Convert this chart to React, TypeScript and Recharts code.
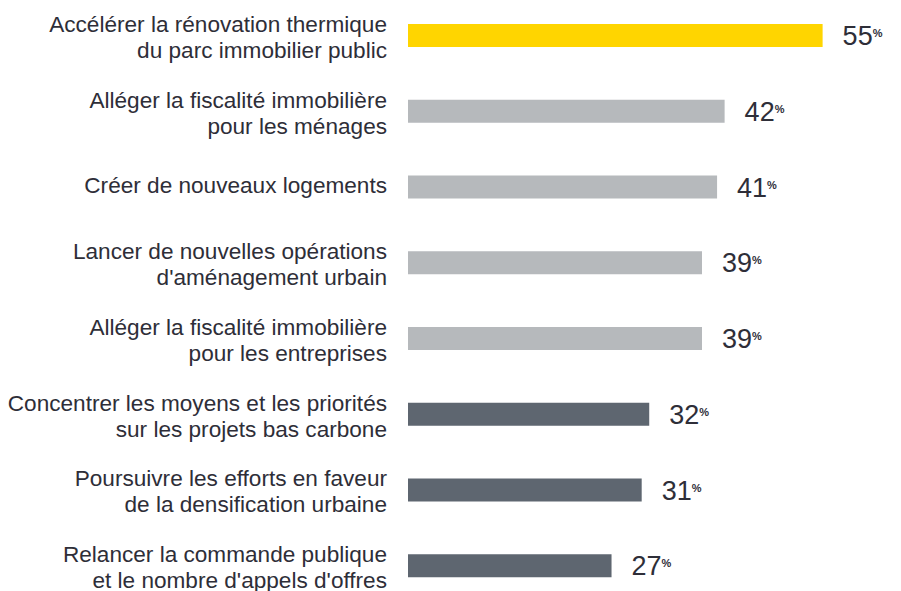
import { BarChart, Bar, XAxis, YAxis, Cell, LabelList } from "recharts";

const categories = [
  "Accélérer la rénovation thermique\ndu parc immobilier public",
  "Alléger la fiscalité immobilière\npour les ménages",
  "Créer de nouveaux logements",
  "Lancer de nouvelles opérations\nd'aménagement urbain",
  "Alléger la fiscalité immobilière\npour les entreprises",
  "Concentrer les moyens et les priorités\nsur les projets bas carbone",
  "Poursuivre les efforts en faveur\nde la densification urbaine",
  "Relancer la commande publique\net le nombre d'appels d'offres",
];
const values = [55, 42, 41, 39, 39, 32, 31, 27];
const tiers = ["top", "mid", "mid", "mid", "mid", "low", "low", "low"];

const tierColor: Record<string, string> = {
  top: "#FFD500",
  mid: "#B6B9BC",
  low: "#5E6670",
};

const TEXT = "#2E2E38";
const FONT = "'Liberation Sans', Arial, sans-serif";

const rows = categories.map((name, i) => ({ name, value: values[i], tier: tiers[i] }));

function CategoryTick({ x, y, payload }: { x?: number; y?: number; payload?: { value: string } }) {
  const lines = String(payload?.value ?? "").split("\n");
  const first = lines.length > 1 ? -4 : 6;
  return (
    <text x={x} y={y} textAnchor="end" fill={TEXT} fontSize={22.6} fontFamily={FONT}>
      {lines.map((l, i) => (
        <tspan key={i} x={x} dy={i === 0 ? first : 26}>{l}</tspan>
      ))}
    </text>
  );
}

function ValueLabel(props: any) {
  const x = Number(props.x) + Number(props.width) + 20;
  const y = Number(props.y) + Number(props.height) / 2 + 9.5;
  return (
    <text x={x} y={y} fill={TEXT} fontFamily={FONT}>
      <tspan fontSize={27}>{props.value}</tspan>
      <tspan fontSize={11} fontWeight={700} dy={-8}>%</tspan>
    </text>
  );
}

export default function App() {
  return (
    <div style={{ position: "absolute", left: 0, top: -2, background: "#fff" }}>
      <BarChart
        width={901}
        height={606}
        data={rows}
        layout="vertical"
        margin={{ top: 0, right: 3, bottom: 0, left: 0 }}
        barSize={23}
      >
        <XAxis type="number" domain={[0, 65]} hide />
        <YAxis
          type="category"
          dataKey="name"
          width={408}
          axisLine={false}
          tickLine={false}
          tickSize={0}
          tickMargin={21}
          interval={0}
          tick={<CategoryTick />}
        />
        <Bar dataKey="value" isAnimationActive={false}>
          {rows.map((r, i) => (
            <Cell key={i} fill={tierColor[r.tier]} />
          ))}
          <LabelList dataKey="value" content={<ValueLabel />} />
        </Bar>
      </BarChart>
    </div>
  );
}
